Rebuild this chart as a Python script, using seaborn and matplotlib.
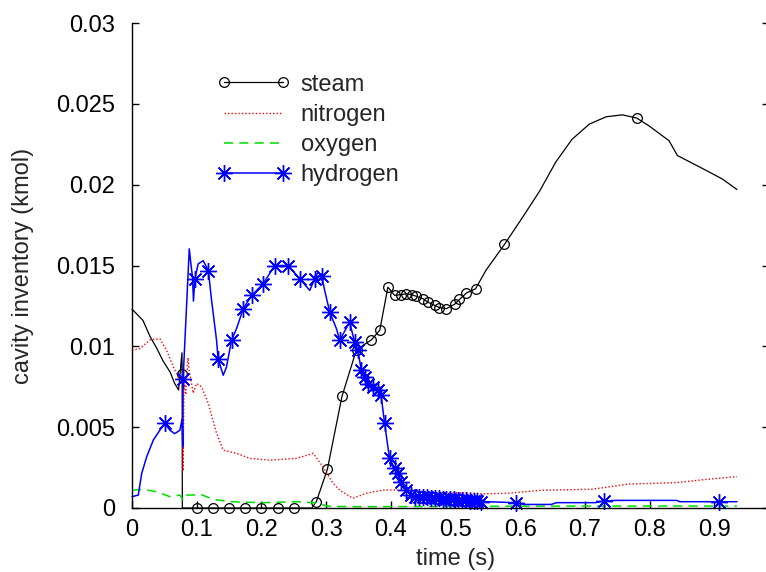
import matplotlib
matplotlib.use("Agg")
import matplotlib.pyplot as plt
import seaborn as sns

# time (s) and inventories (kmol)
steam_t = [0.0, 0.017, 0.028, 0.038, 0.048, 0.059, 0.066, 0.072, 0.0772, 0.0775, 0.0778,
           0.1, 0.125, 0.15, 0.175, 0.2, 0.225, 0.25, 0.278, 0.285, 0.302, 0.3245, 0.347,
           0.37, 0.383, 0.3955, 0.406, 0.416, 0.424, 0.432, 0.439, 0.45, 0.457, 0.468,
           0.475, 0.486, 0.4985, 0.506, 0.517, 0.531, 0.547, 0.5756, 0.604, 0.63, 0.655,
           0.68, 0.707, 0.733, 0.758, 0.78, 0.799, 0.83, 0.843, 0.877, 0.9125, 0.935]
steam_y = [0.0123, 0.0116, 0.0106, 0.0099, 0.0091, 0.0084, 0.0077, 0.0073, 0.0096, 0.0083, 0.0,
           0.0, 0.0, 0.0, 0.0, 0.0, 0.0, 0.0, 0.0, 0.0004, 0.0024, 0.0069, 0.0098,
           0.0104, 0.0110, 0.01366, 0.01315, 0.0132, 0.01325, 0.0132, 0.0131, 0.01294, 0.01274, 0.01253,
           0.0124, 0.01233, 0.0126, 0.0129, 0.0133, 0.01356, 0.0147, 0.0163, 0.0180, 0.0196, 0.0214,
           0.0228, 0.02375, 0.0242, 0.02432, 0.02412, 0.02364, 0.02272, 0.0218, 0.0211, 0.02035, 0.0197]
steam_marks = [9, 11, 12, 13, 14, 15, 16, 17, 19, 20, 21, 22, 23, 24, 25, 26, 27, 28, 29,
               30, 31, 32, 33, 34, 35, 36, 37, 38, 39, 41, 49]

nitro_t = [0.0, 0.012, 0.028, 0.043, 0.0535, 0.064, 0.074, 0.078, 0.079, 0.0805, 0.083,
           0.0865, 0.0885, 0.0946, 0.0998, 0.1075, 0.118, 0.1307, 0.141, 0.151, 0.1615,
           0.182, 0.213, 0.254, 0.28, 0.295, 0.311, 0.321, 0.3415, 0.362, 0.388, 0.4136,
           0.4496, 0.475, 0.5216, 0.543, 0.58, 0.633, 0.711, 0.768, 0.841, 0.893, 0.935]
nitro_y = [0.00975, 0.00986, 0.0104, 0.01047, 0.00975, 0.00872, 0.0079, 0.0075, 0.0023, 0.0080, 0.0070,
           0.0093, 0.0085, 0.0071, 0.0077, 0.0075, 0.00646, 0.00461, 0.00358, 0.00348, 0.00338,
           0.00307, 0.00296, 0.00307, 0.00338, 0.00255, 0.00152, 0.0011, 0.0006, 0.00091, 0.00111, 0.00111,
           0.00101, 0.00094, 0.00094, 0.00088, 0.00091, 0.0011, 0.00116, 0.00148, 0.00157, 0.00179, 0.00194]

oxy_t = [0.0, 0.0175, 0.038, 0.0586, 0.074, 0.079, 0.083, 0.095, 0.105, 0.1255, 0.151,
         0.2027, 0.254, 0.28, 0.3056, 0.35, 0.5, 0.7, 0.935]
oxy_y = [0.00111, 0.00115, 0.00101, 0.0007, 0.0008, 0.00049, 0.0008, 0.0008, 0.00086, 0.00054, 0.00039,
         0.00033, 0.00039, 0.00033, 0.0001, 0.00008, 0.0001, 0.00012, 0.00012]

hydro_t = [0.0, 0.0097, 0.015, 0.0227, 0.0329, 0.043, 0.051, 0.0586, 0.066, 0.074, 0.0775,
           0.0785, 0.079, 0.0818, 0.0885, 0.0905, 0.0935, 0.095, 0.0972, 0.1023, 0.11,
           0.118, 0.123, 0.1307, 0.133, 0.141, 0.146, 0.1538, 0.1615, 0.172, 0.185,
           0.2027, 0.2207, 0.2412, 0.2593, 0.2747, 0.2824, 0.2875, 0.293, 0.2978, 0.3056,
           0.316, 0.321, 0.3364, 0.344, 0.349, 0.3545, 0.3596, 0.3647, 0.3724, 0.38,
           0.385, 0.3904, 0.398, 0.406, 0.411, 0.416, 0.424, 0.4316, 0.438, 0.444,
           0.45, 0.456, 0.462, 0.468, 0.474, 0.48, 0.486, 0.492, 0.498, 0.504,
           0.51, 0.516, 0.522, 0.528, 0.534, 0.54, 0.593, 0.606, 0.648, 0.656,
           0.716, 0.729, 0.747, 0.8415, 0.847, 0.907, 0.935]
hydro_y = [0.0007, 0.0008, 0.00214, 0.00317, 0.0042, 0.00481, 0.00523, 0.00481, 0.0046, 0.00481, 0.0055,
           0.0038, 0.0080, 0.01037, 0.01603, 0.0153, 0.01428, 0.0128, 0.01418, 0.0151, 0.0153,
           0.01469, 0.01284, 0.01037, 0.00924, 0.00821, 0.00872, 0.01037, 0.01109, 0.01233, 0.01315,
           0.01387, 0.0150, 0.0150, 0.01418, 0.01346, 0.01418, 0.01459, 0.01438, 0.01346, 0.01212,
           0.01109, 0.01037, 0.0115, 0.01027, 0.00975, 0.00852, 0.0081, 0.0077, 0.0075, 0.00728,
           0.00698, 0.00523, 0.00307, 0.00245, 0.00214, 0.00162, 0.00111, 0.0008, 0.0007, 0.00068,
           0.00066, 0.00065, 0.00063, 0.00062, 0.0006, 0.00058, 0.00057, 0.00055, 0.00054, 0.00052,
           0.0005, 0.00048, 0.00046, 0.00044, 0.00042, 0.0004, 0.00033, 0.00022, 0.00022, 0.00033,
           0.00033, 0.00043, 0.00047, 0.00047, 0.00039, 0.00039, 0.00039]
hydro_marks = [6, 12, 18, 21, 24, 27, 29, 30, 31, 32, 33, 34, 36, 38, 40, 42, 43, 44, 45,
               46, 47, 48, 49, 50, 51, 52, 53, 54, 55, 56, 57, 58, 59, 60, 61, 62, 63,
               64, 65, 66, 67, 68, 69, 70, 71, 72, 73, 74, 75, 76, 77, 82, 86]

x_ticks = [0, 0.1, 0.2, 0.3, 0.4, 0.5, 0.6, 0.7, 0.8, 0.9, 1.0]
x_labels = ["0", "0.1", "0.2", "0.3", "0.4", "0.5", "0.6", "0.7", "0.8", "0.9", "1"]
y_ticks = [0, 0.005, 0.01, 0.015, 0.02, 0.025, 0.03]
y_labels = ["0", "0.005", "0.01", "0.015", "0.02", "0.025", "0.03"]

sns.set_style("ticks")
plt.rcParams["font.family"] = ["Liberation Sans", "DejaVu Sans"]
fs = 17

fig = plt.figure(figsize=(7.66, 5.72), dpi=100)
ax = fig.add_axes([132 / 766, 64 / 572, 647 / 766, 485 / 572])

sns.lineplot(x=steam_t, y=steam_y, ax=ax, sort=False, estimator=None, color="black",
             lw=0.9, marker="o", markersize=7, markerfacecolor="none", markeredgecolor="black",
             markeredgewidth=0.9, markevery=steam_marks, clip_on=False, label="steam")
sns.lineplot(x=nitro_t, y=nitro_y, ax=ax, sort=False, estimator=None, color="#ff0000",
             lw=1.0, linestyle=(0, (1, 1.5)), clip_on=False, label="nitrogen")
sns.lineplot(x=oxy_t, y=oxy_y, ax=ax, sort=False, estimator=None, color="#00dd00",
             lw=1.1, linestyle=(0, (6, 4)), clip_on=False, label="oxygen")
sns.lineplot(x=hydro_t, y=hydro_y, ax=ax, sort=False, estimator=None, color="#0000ff",
             lw=1.1, marker=(8, 2, 0), markersize=12, markeredgewidth=1.0,
             markeredgecolor="#0000ff", markevery=hydro_marks, clip_on=False, label="hydrogen")

ax.set_xlim(0, 1)
ax.set_ylim(0, 0.03)
ax.set_xticks(x_ticks)
ax.set_xticklabels(x_labels)
ax.set_yticks(y_ticks)
ax.set_yticklabels(y_labels)
ax.tick_params(axis="both", direction="in", length=5, width=1, labelsize=fs, colors="black")
ax.tick_params(axis="y", pad=12, right=True)
ax.tick_params(axis="x", pad=8)
for t in ax.yaxis.get_major_ticks():
    t.tick2line.set_markersize(12)
ax.spines["top"].set_visible(False)
ax.spines["right"].set_visible(False)
for s in ("left", "bottom"):
    ax.spines[s].set_linewidth(1)
    ax.spines[s].set_color("black")

ax.set_xlabel("time (s)", fontsize=fs, labelpad=5)
ax.set_ylabel("cavity inventory (kmol)", fontsize=fs, labelpad=16)

leg = ax.legend(loc="upper left", bbox_to_anchor=(0.113, 0.92), frameon=False, fontsize=fs,
                numpoints=2, handlelength=3.1, handletextpad=0.45, labelspacing=0.35,
                borderpad=0)

fig.savefig("out.png", dpi=100)
